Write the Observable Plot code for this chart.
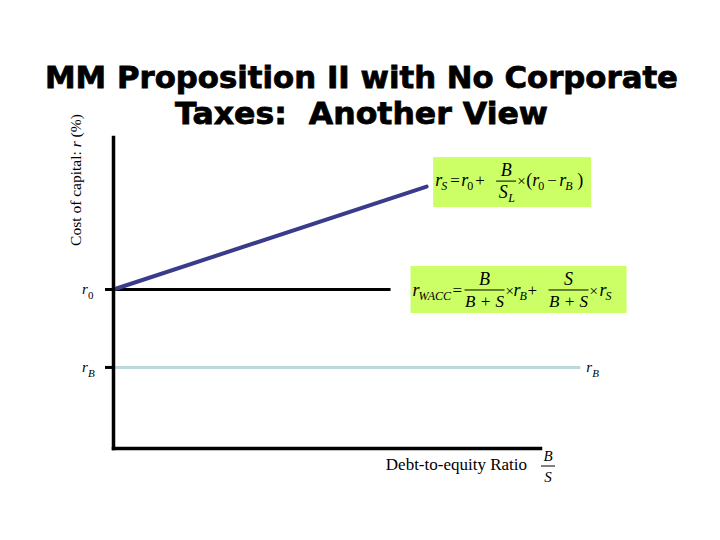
<!DOCTYPE html>
<html><head><meta charset="utf-8">
<script src="https://cdn.jsdelivr.net/npm/d3@7"></script>
<script src="https://cdn.jsdelivr.net/npm/@observablehq/plot@0.6"></script>
<style>body{margin:0;background:#fff}svg{display:block}</style>
</head><body><div id="chart"></div>
<script>
// ---- data ----
const titleLines = ["MM Proposition II with No Corporate", "Taxes:  Another View"];
const yLabel = ["Cost of capital: ", "r", " (%)"];
const xLabel = "Debt-to-equity Ratio";
const rB = 5;                 // cost of debt
const r0 = 10;                // unlevered cost of capital
const yTickValues = [rB, r0];
const yTickSubs = ["B", "0"];
const rSPoints = [{bs: 0, r: 10}, {bs: 1.32, r: 16.6}];   // r_S line
const r0LineEnd = 1.17;
const rBLineEnd = 1.97;
const xDomain = [0, 1.8];
const yDomain = [-0.2, 19.75];

const serif = "'Liberation Serif','DejaVu Serif',serif";

const plot = Plot.plot({
  width: 720, height: 540,
  marginLeft: 113, marginRight: 180, marginTop: 137, marginBottom: 92,
  x: {domain: xDomain, axis: null},
  y: {domain: yDomain, axis: null},
  style: {background: "white", fontFamily: serif},
  marks: [
    Plot.ruleY([rB], {x1: 0, x2: rBLineEnd, stroke: "#bcd8de", strokeWidth: 3}),
    Plot.ruleY([r0], {x1: 0, x2: r0LineEnd, stroke: "black", strokeWidth: 3}),
    Plot.line(rSPoints, {x: "bs", y: "r", stroke: "#3b3b8c", strokeWidth: 4}),
    Plot.frame({anchor: "left", stroke: "black", strokeWidth: 3.5}),
    Plot.frame({anchor: "bottom", stroke: "black", strokeWidth: 3.5}),
    Plot.axisY({ticks: yTickValues, tickSize: 8, tickFormat: () => "", strokeWidth: 3, label: null})
  ]
});
document.getElementById("chart").append(plot);

const svg = d3.select(plot);
const sx = plot.scale("x"), sy = plot.scale("y");
const px = v => sx.apply(v), py = v => sy.apply(v);

function piece(g, x, y, t, size, italic, anchor) {
  const e = g.append("text").attr("x", x).attr("y", y).text(t)
    .attr("font-family", serif).attr("font-size", size).attr("fill", "black")
    .attr("text-anchor", anchor || "start").style("white-space", "pre");
  if (italic) e.attr("font-style", "italic");
  return e;
}
function frac(g, cx, bar, w, num, den) {
  g.append("line").attr("x1", cx - w / 2).attr("x2", cx + w / 2)
    .attr("y1", bar).attr("y2", bar).attr("stroke", "black").attr("stroke-width", 1);
  num(g, cx, bar - 5);
  den(g, cx, bar + 17);
}

// Title
const sans = "'DejaVu Sans',sans-serif";
piece(svg, 361.5, 88, titleLines[0], 31, false, "middle")
  .attr("font-family", sans).attr("font-weight", "bold")
  .attr("stroke", "black").attr("stroke-width", 0.8)
  .attr("textLength", 633).attr("lengthAdjust", "spacingAndGlyphs");
piece(svg, 361.5, 124, titleLines[1], 31, false, "middle")
  .attr("font-family", sans).attr("font-weight", "bold")
  .attr("stroke", "black").attr("stroke-width", 0.8)
  .attr("textLength", 373).attr("lengthAdjust", "spacingAndGlyphs");

// Y label
const yl = svg.append("text").attr("transform", "translate(81,180) rotate(-90)")
  .attr("text-anchor", "middle").attr("font-family", serif).attr("font-size", 15.5)
  .style("white-space", "pre");
yl.append("tspan").text(yLabel[0]);
yl.append("tspan").attr("font-style", "italic").text(yLabel[1]);
yl.append("tspan").text(yLabel[2]);

// Y tick labels r0, rB
yTickValues.forEach((v, i) => {
  const y = py(v);
  piece(svg, px(0) - 31, y + 5, "r", 15, true);
  piece(svg, px(0) - 25, y + 10, yTickSubs[i], 11, yTickSubs[i] !== "0");
});
// rB label at right end of rB line
piece(svg, px(rBLineEnd) + 6, py(rB) + 5, "r", 15, true);
piece(svg, px(rBLineEnd) + 12, py(rB) + 10, "B", 11, true);

// X label
piece(svg, px(xDomain[1]) - 13, py(yDomain[0]) + 22, xLabel, 17, false, "end");
frac(svg, px(xDomain[1]) + 8, py(yDomain[0]) + 18, 14,
  (g, x, y) => piece(g, x, y, "B", 15, true, "middle"),
  (g, x, y) => piece(g, x, y - 1, "S", 15, true, "middle"));

// Formula 1: r_S = r0 + B/S_L × (r0 − rB)
{
  const L = px(rSPoints[1].bs) + 7, bar = py(rSPoints[1].r) - 5, b = bar + 5;
  const g = svg.append("g");
  g.append("rect").attr("x", L).attr("y", bar - 24).attr("width", 158).attr("height", 50).attr("fill", "#ccff66");
  piece(g, L + 2, b, "r", 18, true);
  piece(g, L + 8, b + 4, "S", 12, true);
  piece(g, L + 17, b, "=", 17);
  piece(g, L + 28, b, "r", 18, true);
  piece(g, L + 34, b + 4, "0", 12);
  piece(g, L + 42, b, "+", 17);
  frac(g, L + 73, bar, 20,
    (g, x, y) => piece(g, x, y, "B", 18, true, "middle"),
    (g, x, y) => { piece(g, x - 3, y, "S", 18, true, "middle"); piece(g, x + 2, y + 4, "L", 12, true); });
  piece(g, L + 84, b, "×", 15);
  piece(g, L + 93, b, "(", 18);
  piece(g, L + 99, b, "r", 18, true);
  piece(g, L + 105, b + 4, "0", 12);
  piece(g, L + 114, b, "−", 17);
  piece(g, L + 126, b, "r", 18, true);
  piece(g, L + 132, b + 4, "B", 12, true);
  piece(g, L + 144, b, ")", 18);
}

// Formula 2: r_WACC = B/(B+S) × rB + S/(B+S) × rS
{
  const L = px(r0LineEnd) + 20, bar = py(r0) + 1, b = bar + 6;
  const g = svg.append("g");
  g.append("rect").attr("x", L).attr("y", bar - 24).attr("width", 216).attr("height", 47).attr("fill", "#ccff66");
  piece(g, L + 2, b, "r", 18, true);
  piece(g, L + 8, b + 4, "WACC", 12, true);
  piece(g, L + 42, b, "=", 17);
  frac(g, L + 74, bar, 40,
    (g, x, y) => piece(g, x, y, "B", 18, true, "middle"),
    (g, x, y) => piece(g, x, y, "B + S", 17, true, "middle"));
  piece(g, L + 95, b, "×", 15);
  piece(g, L + 103, b, "r", 18, true);
  piece(g, L + 109, b + 4, "B", 12, true);
  piece(g, L + 117, b, "+", 17);
  frac(g, L + 158, bar, 40,
    (g, x, y) => piece(g, x, y, "S", 18, true, "middle"),
    (g, x, y) => piece(g, x, y, "B + S", 17, true, "middle"));
  piece(g, L + 179, b, "×", 15);
  piece(g, L + 189, b, "r", 18, true);
  piece(g, L + 195, b + 4, "S", 12, true);
}
</script>
</body></html>
